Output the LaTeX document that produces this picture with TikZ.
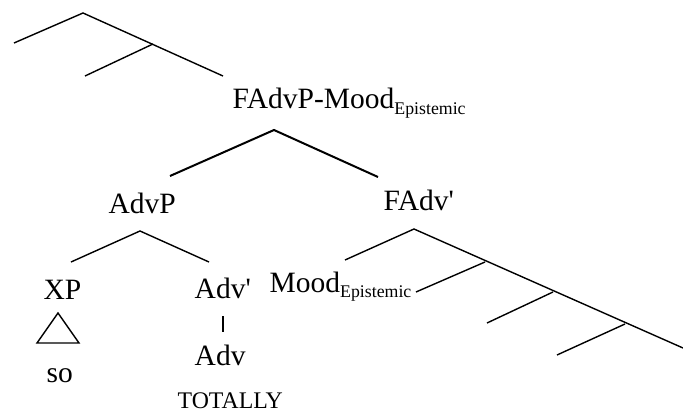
\documentclass[tikz,border=0pt]{standalone}
\usepackage{fontspec}
\setmainfont{Liberation Serif}
\newcommand{\catsub}[1]{\raisebox{-5.5pt}{\fontsize{17.8}{18}\selectfont #1}}
\newcommand{\qs}{\textquotesingle}

\begin{document}
\begin{tikzpicture}[x=1pt, y=-1pt, line width=1.4pt,
    cat/.style={inner sep=0pt, anchor=base west, font=\fontsize{29.5}{31}\selectfont},
    gloss/.style={inner sep=0pt, anchor=base west, font=\fontsize{23.8}{25}\selectfont}]
\useasboundingbox (0,0) rectangle (683,412);

% Upper fragment of the tree (cut off)
\coordinate (u0) at (83,13);
\coordinate (u1) at (14,43);
\coordinate (u2) at (153,44);
\coordinate (u3) at (85,76);
\coordinate (u4) at (223,76);
\draw (u1) -- (u0) -- (u4);
\draw (u2) -- (u3);

% Labels
\node[cat] (fadvp) at (232,109) {FAdvP-Mood\catsub{Epistemic}};
\node[cat] (advp) at (108,213) {AdvP};
\node[cat] (fadvbar) at (383,210) {FAdv\qs};
\node[cat] (xp) at (43,299) {XP};
\node[cat] (advbar) at (194,298) {Adv\qs};
\node[cat] (mood) at (269,292) {Mood\catsub{Epistemic}};
\node[cat] (adv) at (194,365) {Adv};
\node[cat] (so) at (46,382) {so};
\node[gloss] (totally) at (177,408) {TOTALLY};

% FAdvP branches
\coordinate (a0) at (274,130);
\coordinate (a1) at (170,176);
\coordinate (a2) at (378,177);
\draw[line width=2pt] (a1) -- (a0) -- (a2);

% AdvP branches
\coordinate (b0) at (140,231);
\coordinate (b1) at (71,262);
\coordinate (b2) at (209,262);
\draw (b1) -- (b0) -- (b2);

% Triangle over XP
\draw (58,313) -- (37,343) -- (79,343) -- cycle;

% Adv' to Adv
\coordinate (v0) at (223,316);
\coordinate (v1) at (223,332);
\draw (v0) -- (v1);

% FAdv' spine
\coordinate (c0) at (414,229);
\coordinate (c1) at (345,260);
\coordinate (c2) at (683,348);
\draw (c1) -- (c0) -- (c2);

% Left branches off the spine (3 steps)
\foreach \jx/\jy/\ex/\ey [count=\n] in {485/262/416/292, 553/292/487/323, 625/324/557/355} {
    \coordinate (j\n) at (\jx,\jy);
    \coordinate (e\n) at (\ex,\ey);
    \draw (j\n) -- (e\n);
}
\end{tikzpicture}
\end{document}
